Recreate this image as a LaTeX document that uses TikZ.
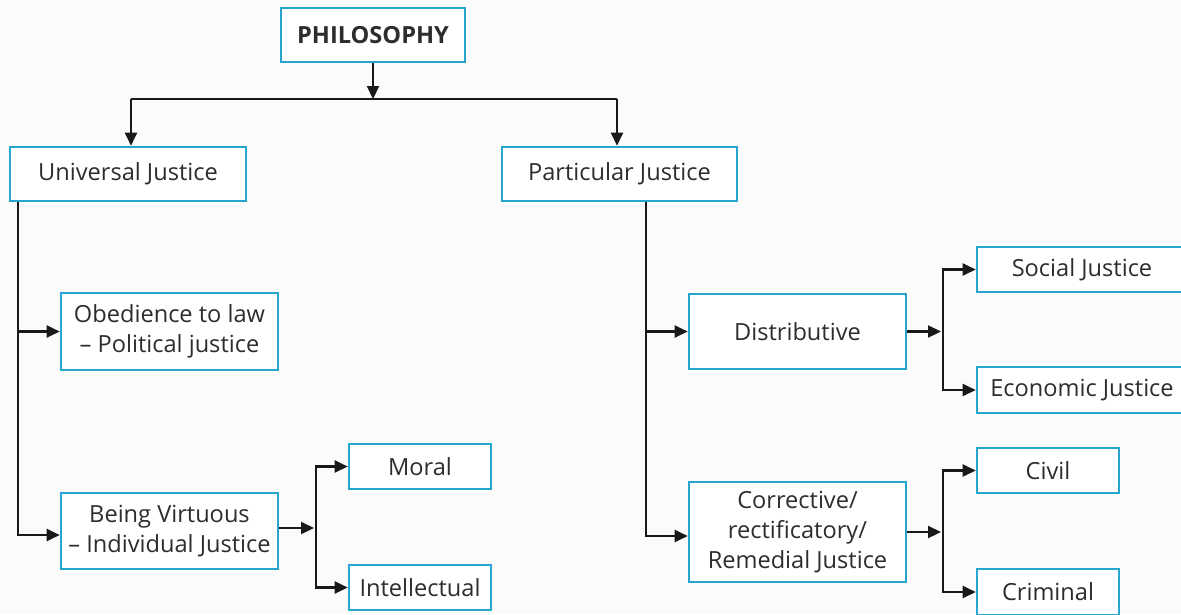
\documentclass[tikz,border=0pt]{standalone}
\usepackage{fontspec}
\setmainfont{Open Sans}
\usetikzlibrary{arrows.meta,calc}
\definecolor{boxblue}{RGB}{38,166,206}
\definecolor{txt}{RGB}{45,45,45}
\definecolor{bgc}{RGB}{251,251,251}
\definecolor{linec}{RGB}{25,25,25}
\tikzset{
  box/.style={draw=boxblue, line width=2.6pt, fill=white, text=txt, align=center,
    inner sep=0pt, font=\fontsize{23.6}{30}\selectfont},
  arr/.style={draw=linec, line width=2.2pt, -{Triangle[length=13pt,width=12pt]}},
  ln/.style={draw=linec, line width=2.2pt},
}
\begin{document}
\begin{tikzpicture}[x=1pt,y=-1pt]
\fill[bgc] (0,0) rectangle (1181,614);
\useasboundingbox (0,0) rectangle (1181,614);
\clip (0,0) rectangle (1181,614);
% nodes
\node[box, minimum width=184pt, minimum height=54pt, font=\fontsize{23.6}{30}\selectfont\bfseries] (phil) at (373,35) {PHILOSOPHY};
\node[box, minimum width=236pt, minimum height=54pt] (univ) at (128,174) {Universal Justice};
\node[box, minimum width=235pt, minimum height=54pt] (part) at (619.5,174) {Particular Justice};
\node[box, minimum width=217pt, minimum height=77pt] (obed) at (169.5,331.5) {Obedience to law\\– Political justice};
\node[box, minimum width=217pt, minimum height=76pt] (virt) at (169.5,531) {Being Virtuous\\– Individual Justice};
\node[box, minimum width=142pt, minimum height=45pt] (moral) at (420,466.5) {Moral};
\node[box, minimum width=142pt, minimum height=45pt] (intel) at (420,587.5) {Intellectual};
\node[box, minimum width=217pt, minimum height=75pt] (dist) at (797.5,331.5) {Distributive};
\node[box, minimum width=217pt, minimum height=100pt] (corr) at (797.5,532) {Corrective/\\rectificatory/\\Remedial Justice};
\node[box, minimum width=210pt, minimum height=45pt] (social) at (1082,269.5) {Social Justice};
\node[box, minimum width=210pt, minimum height=46pt] (econ) at (1082,390) {Economic Justice};
\node[box, minimum width=142pt, minimum height=45pt] (civil) at (1048,470.5) {Civil};
\node[box, minimum width=142pt, minimum height=46pt] (crim) at (1048,592) {Criminal};
% branch coordinates
\coordinate (top) at (373,99);
\coordinate (ul) at (131,99);
\coordinate (ur) at (617,99);
\coordinate (lx) at (18,0);
\coordinate (rx) at (646,0);
\coordinate (bv) at (316,0);
\coordinate (bd) at (943,0);
% connectors
\draw[arr] (phil) -- (top);
\draw[ln] (ul) -- (ur);
\draw[arr] (ul) -- (ul |- univ.north);
\draw[arr] (ur) -- (ur |- part.north);
\draw[arr] (lx |- univ.south) |- ($(virt.west)+(0,4)$);
\draw[arr] (lx |- obed.west) -- (obed.west);
\draw[arr] (rx |- part.south) |- ($(corr.west)+(0,4)$);
\draw[arr] (rx |- dist.west) -- (dist.west);
% virtuous sub-branch
\coordinate (vo) at ($(virt.east)+(0,-3)$);
\draw[arr, shorten >=2pt] (vo) -- (bv |- vo);
\draw[arr] (bv |- vo) |- (moral.west);
\draw[arr] (bv |- vo) |- (intel.west);
% distributive sub-branch
\draw[arr, shorten >=2pt] (dist.east) -- (bd |- dist.east);
\draw[arr] (bd |- dist.east) |- (social.west);
\draw[arr] (bd |- dist.east) |- (econ.west);
% corrective sub-branch
\draw[arr, shorten >=2pt] (corr.east) -- (bd |- corr.east);
\draw[arr] (bd |- corr.east) |- (civil.west);
\draw[arr] (bd |- corr.east) |- (crim.west);
\end{tikzpicture}
\end{document}
